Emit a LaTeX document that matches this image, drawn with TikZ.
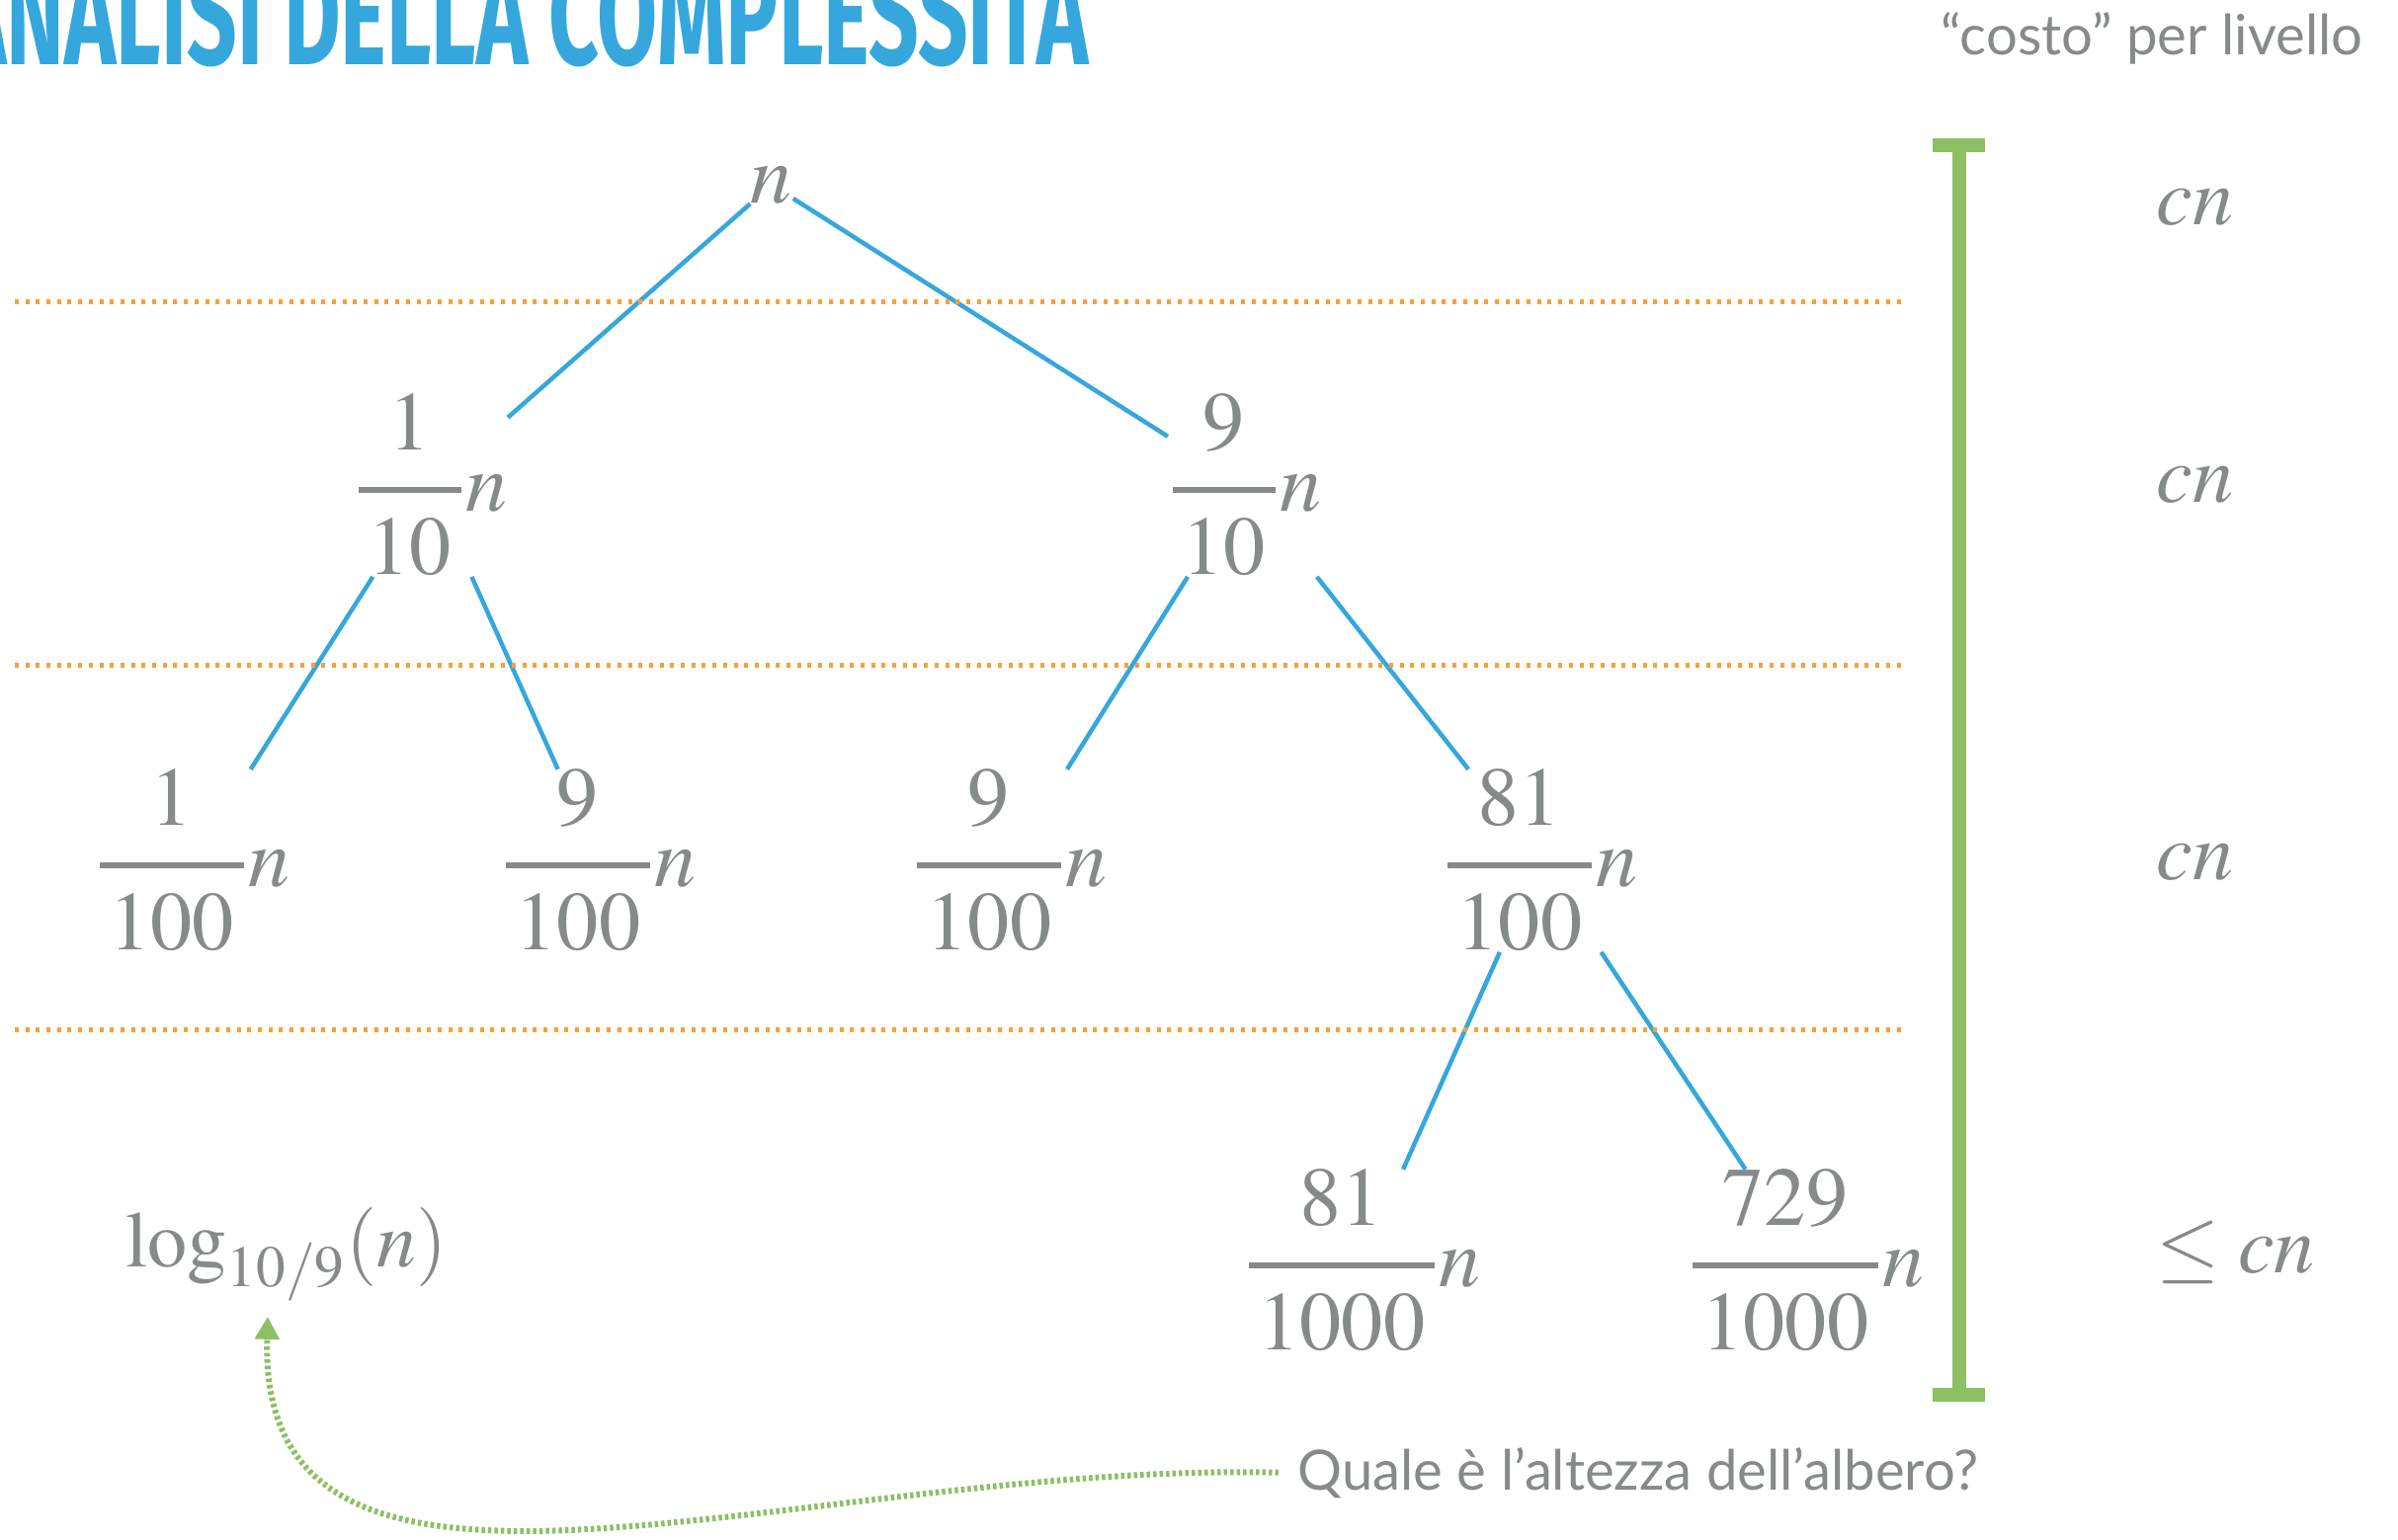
\documentclass[tikz,border=0pt]{standalone}
\usepackage{mathptmx}
\usepackage{amsmath}
\usepackage[no-math]{fontspec}
\usepackage{xcolor}
\usepackage{graphicx}
\usetikzlibrary{arrows.meta}
\newfontfamily\sansfont{Lato}
\newfontfamily\titlefont{Fira Sans}
\definecolor{txtgray}{HTML}{868A8A}
\definecolor{treeblue}{HTML}{36A7DD}
\definecolor{sepgold}{HTML}{F8A03A}
\definecolor{bargreen}{HTML}{8CC063}
\newcommand{\fr}[2]{\genfrac{}{}{1.6pt}{0}{\raisebox{0.04cm}{$\kern2.8pt#1\kern2.8pt$}}{\raisebox{-0.07cm}{$\kern2.8pt#2\kern2.8pt$}}}

\begin{document}
\begin{tikzpicture}
	[every node/.style={text=txtgray, inner sep=0pt},
	term/.style={font=\fontsize{24}{28}\selectfont, anchor=base},
	cost/.style={font=\fontsize{23.5}{27}\selectfont, anchor=base west},
	branch/.style={treeblue, line width=0.045cm},
	levelline/.style={sepgold, line width=0.05cm, dash pattern=on 0.04cm off 0.067cm},
	costbar/.style={bargreen, line width=0.14cm},
	hint/.style={bargreen, line width=0.06cm, dash pattern=on 0.035cm off 0.03cm}]
	\useasboundingbox (0,0) rectangle (24.27,-15.58);
	\node[anchor=base east, text=treeblue, font=\fontsize{41}{45}\titlefont\bfseries] (title) at (11.02,-0.65) {\scalebox{0.615}[1]{ANALISI DELLA COMPLESSITÀ}};
	\node[anchor=base east, font=\fontsize{16}{19}\sansfont] (costhead) at (23.92,-0.55) {“costo” per livello};

	\node[term] (root) at (7.81,-2.05) {$n$};
	\node[term] (a) at (4.36,-5.17) {$\fr{1}{10}n$};
	\node[term] (b) at (12.60,-5.17) {$\fr{9}{10}n$};
	\node[term] (aa) at (1.95,-8.97) {$\fr{1}{100}n$};
	\node[term] (ab) at (6.06,-8.97) {$\fr{9}{100}n$};
	\node[term] (ba) at (10.22,-8.97) {$\fr{9}{100}n$};
	\node[term] (bb) at (15.59,-8.97) {$\fr{81}{100}n$};
	\node[term] (bba) at (13.79,-13.02) {$\fr{81}{1000}n$};
	\node[term] (bbb) at (18.28,-13.02) {$\fr{729}{1000}n$};
	\node[term, font=\fontsize{22.8}{27}\selectfont] (height) at (2.90,-12.82) {$\log_{10/9}(n)$};

	\draw[branch] (root) -- (a);
	\draw[branch] (root) -- (b);
	\draw[branch] (a) -- (aa);
	\draw[branch] (a) -- (ab);
	\draw[branch] (b) -- (ba);
	\draw[branch] (b) -- (bb);
	\draw[branch] (bb) -- (bba);
	\draw[branch] (bb) -- (bbb);

	\draw[levelline] (0.15,-3.05) -- (19.30,-3.05);
	\draw[levelline] (0.15,-6.73) -- (19.30,-6.73);
	\draw[levelline] (0.15,-10.42) -- (19.30,-10.42);

	\draw[costbar] (19.83,-1.40) -- (19.83,-14.18);
	\draw[costbar] (19.56,-1.465) -- (20.09,-1.465);
	\draw[costbar] (19.56,-14.115) -- (20.09,-14.115);

	\node[cost] (c0) at (21.82,-2.27) {$cn$};
	\node[cost] (c1) at (21.82,-5.08) {$cn$};
	\node[cost] (c2) at (21.82,-8.90) {$cn$};
	\node[cost] (c3) at (21.82,-12.88) {$\leq cn$};

	\node[anchor=base west, inner xsep=0.19cm, font=\fontsize{16}{19}\sansfont] (question) at (12.94,-15.08) {Quale è l’altezza dell’albero?};
	\draw[hint, -{Triangle[length=0.23cm, width=0.24cm]}] (question.west) .. controls (8.0,-14.8) and (2.6,-17.0) .. ([xshift=-0.19cm, yshift=-0.15cm]height.south);
\end{tikzpicture}
\end{document}
